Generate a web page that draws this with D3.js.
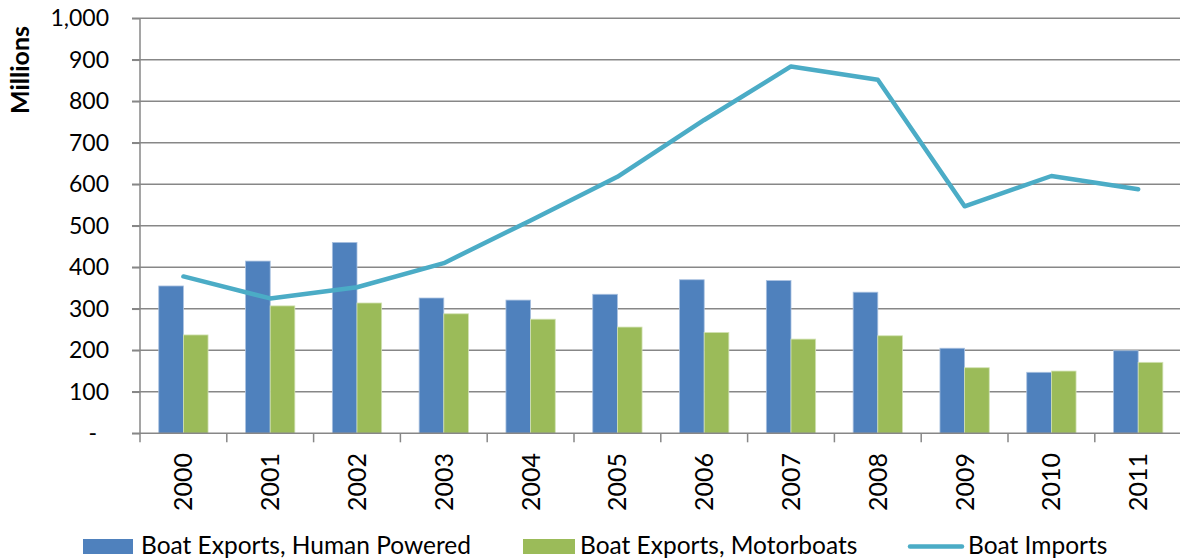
<!DOCTYPE html>
<html><head><meta charset="utf-8">
<script src="https://cdn.jsdelivr.net/npm/d3@7"></script>
<style>
body{margin:0;background:#fff}
svg{display:block}
text{font-family:Lato,"Open Sans",sans-serif;fill:#000}
</style>
</head><body>
<svg id="c" width="1180" height="560"></svg>
<script>
const years = ["2000","2001","2002","2003","2004","2005","2006","2007","2008","2009","2010","2011"];
const humanPowered = [355, 415, 460, 326, 321, 335, 370, 368, 340, 205, 147, 199];
const motorboats   = [237, 307, 314, 288, 275, 256, 243, 227, 235, 158, 150, 171];
const boatImports  = [378, 325, 352, 410, 513, 618, 755, 884, 852, 547, 620, 588];
const yTicks = [0,100,200,300,400,500,600,700,800,900,1000];
const seriesNames = ["Boat Exports, Human Powered","Boat Exports, Motorboats","Boat Imports"];
const seriesColors = ["#4F81BD","#9BBB59","#4BACC6"];

const svg = d3.select("#c");
const pLeft = 140, pRight = 140 + 86.8*12, pTop = 18.3, pBottom = 433.3;
const x = d3.scaleBand().domain(years).range([pLeft, pRight]).padding(0);
const y = d3.scaleLinear().domain([0, 1000]).range([pBottom, pTop]);
const bw = x.bandwidth();
const barW = bw * 0.284;
const axisColor = "#878787";

// gridlines
svg.append("g").selectAll("line").data(yTicks.filter(d => d > 0)).join("line")
  .attr("x1", pLeft - 8).attr("x2", 1180)
  .attr("y1", d => y(d)).attr("y2", d => y(d))
  .attr("stroke", axisColor).attr("stroke-width", 1.5);

// y axis
const yAxis = svg.append("g").attr("transform", `translate(${pLeft},0)`)
  .call(d3.axisLeft(y).tickValues(yTicks).tickSize(8).tickPadding(23)
    .tickFormat(d => d === 0 ? "-" : d3.format(",")(d)));
yAxis.select(".domain").attr("stroke", axisColor).attr("stroke-width", 1.5).attr("d", `M0,${pTop}V${pBottom}`);
yAxis.selectAll(".tick line").attr("stroke", axisColor).attr("stroke-width", 1.5);
yAxis.selectAll(".tick text").attr("font-size", 23).attr("font-family", "Lato").attr("fill", "#000")
  .attr("dx", d => d === 0 ? -12 : 0);

// bars
svg.append("g").selectAll("rect").data(years).join("rect")
  .attr("x", d => x(d) + bw/2 - barW).attr("width", barW)
  .attr("y", (d,i) => y(humanPowered[i])).attr("height", (d,i) => pBottom - y(humanPowered[i]))
  .attr("fill", seriesColors[0]).attr("stroke", "#a9c1e0").attr("stroke-width", 0.8);
svg.append("g").selectAll("rect").data(years).join("rect")
  .attr("x", d => x(d) + bw/2).attr("width", barW)
  .attr("y", (d,i) => y(motorboats[i])).attr("height", (d,i) => pBottom - y(motorboats[i]))
  .attr("fill", seriesColors[1]).attr("stroke", "#d2e2b4").attr("stroke-width", 0.8);

// x axis
const xg = svg.append("g");
xg.append("line").attr("x1", pLeft - 8).attr("x2", 1180).attr("y1", pBottom).attr("y2", pBottom)
  .attr("stroke", axisColor).attr("stroke-width", 1.5);
xg.selectAll("line.tk").data(years.concat(["end"])).join("line").attr("class","tk")
  .attr("x1", (d,i) => pLeft + i*bw).attr("x2", (d,i) => pLeft + i*bw)
  .attr("y1", pBottom).attr("y2", pBottom + 9)
  .attr("stroke", axisColor).attr("stroke-width", 1.5);
xg.selectAll("text").data(years).join("text")
  .attr("transform", d => `translate(${x(d) + bw/2},453) rotate(-90)`)
  .attr("text-anchor", "end").attr("dy", "0.36em")
  .attr("font-size", 25).text(d => d);

// line
const line = d3.line().x((d,i) => x(years[i]) + bw/2).y(d => y(d));
svg.append("path").datum(boatImports).attr("d", line)
  .attr("fill", "none").attr("stroke", seriesColors[2]).attr("stroke-width", 4.5)
  .attr("stroke-linejoin", "round").attr("stroke-linecap", "round");

// y title
svg.append("text").attr("transform", "translate(20,70) rotate(-90)")
  .attr("text-anchor", "middle").attr("dy", "0.36em")
  .attr("font-size", 25).attr("font-weight", "bold").text("Millions");

// legend
const lg = svg.append("g");
lg.append("rect").attr("x", 83).attr("y", 539).attr("width", 50).attr("height", 15).attr("fill", seriesColors[0]);
lg.append("text").attr("x", 141).attr("y", 554).attr("font-size", 24.5).text(seriesNames[0]);
lg.append("rect").attr("x", 523).attr("y", 539).attr("width", 52).attr("height", 15).attr("fill", seriesColors[1]);
lg.append("text").attr("x", 580).attr("y", 554).attr("font-size", 24.5).text(seriesNames[1]);
lg.append("line").attr("x1", 910).attr("x2", 962).attr("y1", 546.5).attr("y2", 546.5)
  .attr("stroke", seriesColors[2]).attr("stroke-width", 4.5).attr("stroke-linecap", "round");
lg.append("text").attr("x", 968).attr("y", 554).attr("font-size", 24.5).text(seriesNames[2]);
</script>
</body></html>
